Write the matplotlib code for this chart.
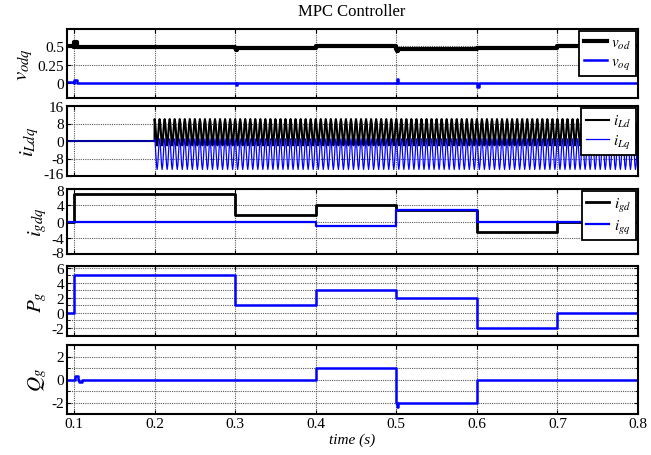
import numpy as np
import matplotlib
matplotlib.use("Agg")
import matplotlib.pyplot as plt
from matplotlib.ticker import MultipleLocator
from matplotlib.transforms import ScaledTranslation

plt.rcParams["font.family"] = ["Liberation Serif", "DejaVu Serif"]
plt.rcParams["mathtext.fontset"] = "stix"
plt.rcParams["axes.unicode_minus"] = False

# switching instants (s) and the level of each signal between them
SWITCH_T = [0.091, 0.1, 0.3, 0.4, 0.5, 0.6, 0.7, 0.8]
V_OD = [0.50, 0.49, 0.48, 0.50, 0.46, 0.48, 0.50]
V_OQ = [0.01, 0.00, 0.00, 0.00, 0.00, 0.00, 0.00]
I_GD = [0.0, 6.8, 1.5, 4.1, 2.9, -2.5, 0.0]
I_GQ = [0.0, 0.0, 0.0, -1.2, 2.9, 0.0, 0.0]
P_G = [0.0, 5.0, 1.0, 3.0, 2.0, -2.1, 0.0]
Q_G = [0.0, 0.0, 0.0, 1.0, -2.0, 0.0, 0.0]

# short transients: (start, duration, value)
V_OD_SPIKES = [(0.1005, 0.003, 0.55), (0.3005, 0.002, 0.45), (0.5005, 0.002, 0.44)]
V_OQ_SPIKES = [(0.1005, 0.003, 0.04), (0.3005, 0.002, -0.03), (0.5005, 0.0015, 0.05),
               (0.6005, 0.002, -0.05)]
Q_G_SPIKES = [(0.1015, 0.003, 0.3), (0.106, 0.004, -0.25), (0.5005, 0.002, -2.4)]

# inductor currents: zero until IL_START, then one repeated ripple period
IL_START = 0.2
IL_PERIOD = 0.00625
IL_D_CYCLE = [10.0, 8.2, 4.0, -0.2, -2.0, -0.2, 4.0, 8.2]
IL_Q_CYCLE = [1.0, -1.1, -6.0, -10.9, -13.0, -10.9, -6.0, -1.1]


def step_trace(levels, spikes=()):
    pts = [(t, lv) for t, lv in zip(SWITCH_T[:-1], levels)]
    for t0, dt, val in spikes:
        base = levels[np.searchsorted(SWITCH_T, t0 + dt, side="right") - 1]
        pts += [(t0, val), (t0 + dt, base)]
    pts.sort()
    t, v = zip(*pts)
    return list(t) + [SWITCH_T[-1]], list(v) + [v[-1]]


def ripple_trace(cycle):
    n_cyc = int(round((SWITCH_T[-1] - IL_START) / IL_PERIOD))
    vals = np.tile(cycle, n_cyc)
    t = IL_START + np.arange(len(vals)) * (IL_PERIOD / len(cycle))
    return np.r_[SWITCH_T[0], IL_START, t], np.r_[0.0, 0.0, vals]


fig = plt.figure(figsize=(6.51, 4.56), dpi=100)
W, H = 651, 456
boxes = [(30, 99), (107, 177), (190, 255), (267, 337), (346, 415)]
axes = [fig.add_axes([67 / W, 1 - b / H, 571 / W, (b - t) / H]) for t, b in boxes]

blue = "#0000ff"
ax1, ax2, ax3, ax4, ax5 = axes

t, v = step_trace(V_OD, V_OD_SPIKES)
ax1.step(t, v, where="post", color="k", lw=3.0, label="$v_{od}$")
t, v = step_trace(V_OQ, V_OQ_SPIKES)
ax1.step(t, v, where="post", color=blue, lw=1.8, label="$v_{oq}$")
ax1.set_ylim(-0.2, 0.73)
ax1.set_yticks([0, 0.25, 0.5], ["0", "0.25", "0.5"])
ax1.set_ylabel("$v_{odq}$")

t, v = ripple_trace(IL_D_CYCLE)
ax2.plot(t, v, color="k", lw=1.5, label="$i_{Ld}$")
t, v = ripple_trace(IL_Q_CYCLE)
ax2.plot(t, v, color=blue, lw=0.9, label="$i_{Lq}$")
ax2.set_ylim(-16, 16)
ax2.set_yticks([-16, -8, 0, 8, 16])
ax2.set_ylabel("$i_{Ldq}$")

t, v = step_trace(I_GD)
ax3.step(t, v, where="post", color="k", lw=2.0, label="$i_{gd}$")
t, v = step_trace(I_GQ)
ax3.step(t, v, where="post", color=blue, lw=1.6, label="$i_{gq}$")
ax3.set_ylim(-8, 8)
ax3.set_yticks([-8, -4, 0, 4, 8])
ax3.set_ylabel("$i_{gdq}$")

t, v = step_trace(P_G)
ax4.step(t, v, where="post", color=blue, lw=1.8)
ax4.set_ylim(-3.1, 6.2)
ax4.set_yticks([-2, 0, 2, 4, 6])
ax4.yaxis.set_minor_locator(MultipleLocator(1))
ax4.set_ylabel("$P_g$")

t, v = step_trace(Q_G, Q_G_SPIKES)
ax5.step(t, v, where="post", color=blue, lw=1.8)
ax5.set_ylim(-3, 3)
ax5.set_yticks([-2, 0, 2])
ax5.yaxis.set_minor_locator(MultipleLocator(1))
ax5.set_ylabel("$Q_g$")

for ax in axes:
    ax.set_xlim(0.0913, 0.8)
    ax.set_xticks(np.arange(0.1, 0.81, 0.1))
    ax.tick_params(direction="in", top=True, right=True, labelsize=11, length=3, pad=2)
    ax.tick_params(which="minor", direction="in", right=True, length=2)
    ax.grid(True, which="both", color="0.35", ls=(0, (1, 1)), lw=0.8)
    ax.yaxis.label.set_size(15)
    ax.yaxis.labelpad = 2
    for sp in ax.spines.values():
        sp.set_linewidth(1.5)
    if ax is not ax5:
        ax.tick_params(labelbottom=False)

ax5.set_xticklabels(["0.1", "0.2", "0.3", "0.4", "0.5", "0.6", "0.7", "0.8"])
ax5.set_xlabel("time (s)", fontstyle="italic", fontsize=11, labelpad=2)

for ax in (ax1, ax2, ax3):
    leg = ax.legend(loc="upper right", fontsize=11, fancybox=False, framealpha=1,
                    edgecolor="k", borderaxespad=0.15, handlelength=1.5,
                    handletextpad=0.3, borderpad=0.3, labelspacing=0.25)
    leg.get_frame().set_linewidth(1.3)

fig.text(352 / W, 1 - 12 / H, "MPC Controller", ha="center", va="center", fontsize=12)

# nudge the edge labels of neighbouring panels slightly apart once all ticks exist
fig.canvas.draw()
nudges = [(ax2, 0, 3.0), (ax3, -1, -1.5), (ax3, 0, 1.5)]
for ax, idx, px in nudges:
    lbl = ax.yaxis.get_major_ticks()[idx].label1
    lbl.set_transform(lbl.get_transform() + ScaledTranslation(0, px / 100, fig.dpi_scale_trans))

fig.savefig("out.png", dpi=100)
